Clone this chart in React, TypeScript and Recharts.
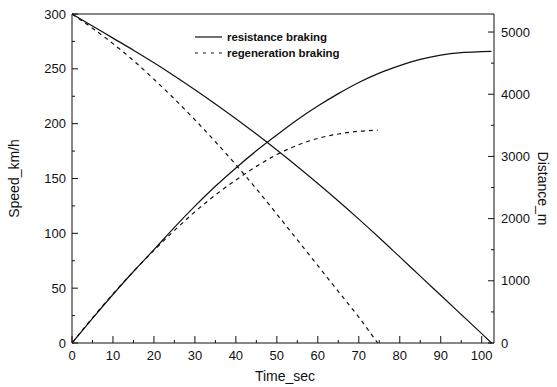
import { LineChart, Line, XAxis, YAxis, Legend, ReferenceLine } from 'recharts';

// time samples (s)
const resistanceTime = [0, 5, 10, 15, 20, 25, 30, 35, 40, 45, 50, 55, 60, 65, 70, 75, 80, 85, 90, 95, 100, 102.4];
const resistanceSpeed = [300, 289, 278, 267, 255.5, 243.5, 231, 218, 204.5, 190.5, 176, 161, 145.5, 129.5, 113, 96, 78.5, 61, 43.5, 26, 8.5, 0];
const resistanceDistance = [0, 395, 780, 1150, 1500, 1860, 2200, 2520, 2815, 3090, 3345, 3590, 3810, 4010, 4190, 4340, 4460, 4560, 4630, 4670, 4685, 4690];

const regenTime = [0, 5, 10, 15, 20, 25, 30, 35, 40, 45, 50, 55, 60, 65, 70, 74.6];
const regenSpeed = [300, 287, 273, 257.5, 240.5, 222.5, 203.5, 183.5, 162.5, 140.5, 117.5, 94, 70.5, 47, 23.5, 0];
const regenDistance = [0, 405, 790, 1150, 1490, 1810, 2110, 2380, 2620, 2840, 3030, 3180, 3290, 3360, 3405, 3420];

const timeTicks = [0, 5, 10, 15, 20, 25, 30, 35, 40, 45, 50, 55, 60, 65, 70, 75, 80, 85, 90, 95, 100];
const speedTicks = [0, 25, 50, 75, 100, 125, 150, 175, 200, 225, 250, 275, 300];
const distanceTicks = [0, 500, 1000, 1500, 2000, 2500, 3000, 3500, 4000, 4500, 5000];

const legendItems = [
  { name: 'resistance braking', dash: undefined },
  { name: 'regeneration braking', dash: '3 5' },
];

const resistanceRows = resistanceTime.map((t, i) => ({ t, speed: resistanceSpeed[i], dist: resistanceDistance[i] }));
const regenRows = regenTime.map((t, i) => ({ t, speed: regenSpeed[i], dist: regenDistance[i] }));

const INK = '#111';
const FONT = '"Liberation Sans", Arial, sans-serif';
const DASH = '4 4';

function TimeTick({ x, y, payload }: any) {
  const major = payload.value % 10 === 0;
  return (
    <g>
      <line x1={x} y1={y} x2={x} y2={y - (major ? 7 : 3)} stroke={INK} />
      {major && (
        <text x={x} y={y + 17} textAnchor="middle" fontSize={13} fontFamily={FONT} fill={INK}>
          {payload.value}
        </text>
      )}
    </g>
  );
}

function SpeedTick({ x, y, payload }: any) {
  const major = payload.value % 50 === 0;
  return (
    <g>
      <line x1={x} y1={y} x2={x + (major ? 6 : 3)} y2={y} stroke={INK} />
      {major && (
        <text x={x - 6} y={y + 4.5} textAnchor="end" fontSize={13} fontFamily={FONT} fill={INK}>
          {payload.value}
        </text>
      )}
    </g>
  );
}

function DistanceTick({ x, y, payload }: any) {
  const major = payload.value % 1000 === 0;
  return (
    <g>
      <line x1={x} y1={y} x2={x - (major ? 6 : 3)} y2={y} stroke={INK} />
      {major && (
        <text x={x + 7} y={y + 4.5} textAnchor="start" fontSize={13} fontFamily={FONT} fill={INK}>
          {payload.value}
        </text>
      )}
    </g>
  );
}

function renderLegend() {
  return (
    <div style={{ fontFamily: FONT, fontSize: 11.5, fontWeight: 'bold', color: INK, letterSpacing: -0.1 }}>
      {legendItems.map((item) => (
        <div key={item.name} style={{ display: 'flex', alignItems: 'center', height: 16 }}>
          <svg width={27} height={16}>
            <line x1={0} y1={8} x2={27} y2={8} stroke={INK} strokeWidth={1.2} strokeDasharray={item.dash} />
          </svg>
          <span style={{ marginLeft: 5, whiteSpace: 'nowrap' }}>{item.name}</span>
        </div>
      ))}
    </div>
  );
}

export default function App() {
  return (
    <div style={{ position: 'absolute', left: 0, top: 0, width: 557, height: 387, background: '#fff' }}>
      <LineChart width={557} height={387} margin={{ top: 14, right: 13, bottom: 14, left: 22 }}>
        <XAxis
          xAxisId="t"
          dataKey="t"
          type="number"
          domain={[0, 103]}
          ticks={timeTicks}
          interval={0}
          height={30}
          tickSize={0}
          tickMargin={0}
          tickLine={false}
          axisLine={{ stroke: INK }}
          tick={TimeTick}
          allowDataOverflow
          label={{
            content: ({ viewBox }: any) => (
              <text x={viewBox.x + viewBox.width / 2 + 2} y={viewBox.y + 38} textAnchor="middle" fontSize={14} fontFamily={FONT} fill={INK}>
                Time_sec
              </text>
            ),
          }}
        />
        <YAxis
          yAxisId="speed"
          orientation="left"
          type="number"
          domain={[0, 300]}
          ticks={speedTicks}
          interval={0}
          width={50}
          tickSize={0}
          tickMargin={0}
          tickLine={false}
          axisLine={{ stroke: INK }}
          tick={SpeedTick}
          label={{
            content: ({ viewBox }: any) => {
              const cx = viewBox.x - 8;
              const cy = viewBox.y + viewBox.height / 2;
              return (
                <text x={cx} y={cy} transform={`rotate(-90 ${cx} ${cy})`} textAnchor="middle" dominantBaseline="central" fontSize={14} fontFamily={FONT} fill={INK}>
                  Speed_km/h
                </text>
              );
            },
          }}
        />
        <YAxis
          yAxisId="dist"
          orientation="right"
          type="number"
          domain={[0, 5290]}
          ticks={distanceTicks}
          interval={0}
          width={50}
          tickSize={0}
          tickMargin={0}
          tickLine={false}
          axisLine={{ stroke: INK }}
          tick={DistanceTick}
          label={{
            content: ({ viewBox }: any) => {
              const cx = viewBox.x + 49;
              const cy = viewBox.y + viewBox.height / 2 + 10;
              return (
                <text x={cx} y={cy} transform={`rotate(90 ${cx} ${cy})`} textAnchor="middle" dominantBaseline="central" fontSize={14} fontFamily={FONT} fill={INK}>
                  Distance_m
                </text>
              );
            },
          }}
        />
        <ReferenceLine xAxisId="t" yAxisId="speed" y={300} stroke={INK} />
        <Legend layout="vertical" align="center" verticalAlign="middle" wrapperStyle={{ top: 29, left: 195, width: 180 }} content={renderLegend} />
        <Line xAxisId="t" yAxisId="speed" data={resistanceRows} dataKey="speed" type="monotone" stroke={INK} strokeWidth={1.2} dot={false} isAnimationActive={false} />
        <Line xAxisId="t" yAxisId="dist" data={resistanceRows} dataKey="dist" type="monotone" stroke={INK} strokeWidth={1.2} dot={false} isAnimationActive={false} />
        <Line xAxisId="t" yAxisId="speed" data={regenRows} dataKey="speed" type="monotone" stroke={INK} strokeWidth={1.2} strokeDasharray={DASH} dot={false} isAnimationActive={false} />
        <Line xAxisId="t" yAxisId="dist" data={regenRows} dataKey="dist" type="monotone" stroke={INK} strokeWidth={1.2} strokeDasharray={DASH} dot={false} isAnimationActive={false} />
      </LineChart>
    </div>
  );
}
